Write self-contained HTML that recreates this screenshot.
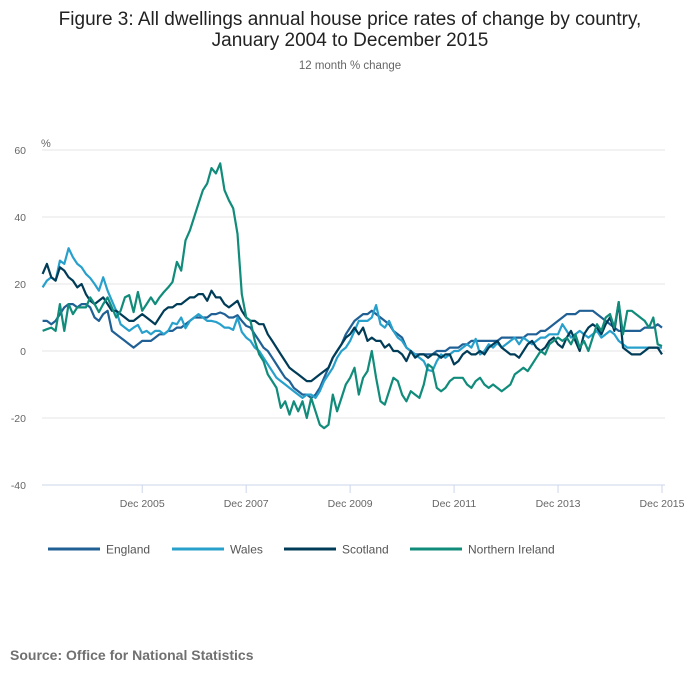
<!DOCTYPE html>
<html><head><meta charset="utf-8"><style>
body{margin:0;background:#fff;font-family:"Liberation Sans",sans-serif;}
#wrap{position:relative;width:700px;height:682px;overflow:hidden;}
</style></head><body>
<div id="wrap">
<svg id="chart" width="700" height="682" style="position:absolute;left:0;top:0">
<text x="350" y="25" text-anchor="middle" font-size="19" fill="#222">Figure 3: All dwellings annual house price rates of change by country,</text>
<text x="350" y="46" text-anchor="middle" font-size="19" fill="#222">January 2004 to December 2015</text>
<text x="350" y="69" text-anchor="middle" font-size="11.5" fill="#666">12 month % change</text>
<text x="41" y="147" font-size="11" fill="#666">%</text>
<g id="grid"></g><g id="series"></g>
<text x="10" y="660" font-size="14" font-weight="bold" fill="#707070">Source: Office for National Statistics</text>
</svg>
</div>
<script>
const england=[9,9,8,9,11,13,14,14,13,14,14,13, 10,9,11,12,6,5,4,3,2,1,2,3, 3,3,4,5,5,6,6,7,7,8,9,10, 10,10,10,11,11,11.5,11,10,10,10.7,9,7.5, 7,5,3,1,0,-2,-4,-6,-8,-9,-11,-12, -13,-13,-14,-13,-11,-8,-5,-2,0,2,5,7, 9,10,11,11,12,11,10,9,8,6,5,4, 1,0,-1,-1,-1,-1,-1,0,0,0,1,1, 1,2,2,3,3,3,3,3,3,3,4,4, 4,4,4,4,5,5,5,6,6,7,8,9, 10,11,11,11,12,12,12,12,11,10,9,8, 7,6,6,6,6,6,6,7,7,7,8,7];
const wales=[19,21,22,21,27,26,30.7,28,26,25,23,21.8, 20,18,22,18,15,12,8,7,6,7,7.8,5.4, 6,5,6,6,5,6,8.4,8,10,6.8,9,10, 11,10,9,9,8.7,8,7,7,6.3,10,5.7,4, 3,1,0,-2,-4,-6,-8,-9,-10,-11,-12,-13, -14,-13,-13,-14,-12,-9,-7,-5,-2,0,1,3, 6,9,9,9,10,13.7,8,7,9,6,4,3, 1,0,-1,-2,-3,-5.7,-6,-3,-1,-2,-1,0, 0,1,2,1,3.6,-1,0,2,1,2.4,1,2, 3,4,2,4,3,2,3,4,4,5,5,5, 8,6,4,5,6,5,4,5,6,4,5,6, 5,3,2,1,1,1,1,1,1,1,1,1];
const scotland=[23,26,22,21,25,24,22,21,19,20,17,15, 14,15,16,14,12,12,11,10,9,9,10,11, 10,9,8,10,12,13,13,14,14,15,16,16, 17,17,15,18,16,16,14,13,14,15,12,10, 9,9,8,8,5,3,1,-1,-3,-5,-6,-7, -8,-9,-9,-8,-7,-6,-5,-2,0,2,4,5, 7,5,7,3,4,3,3,1,2,0,0,-1, -3,0,-2,-1,-1,-2,-1,-1,-2,-1,-1,-4, -3,-1,0,-1,-1,0,-1,1,2,3,1,0, -1,-1,-2,0,2,3,1,0,1,3,4,2, 1,4,6,3,0,5,7,8,7,5,8,10, 6,14.6,1,0,-1,-1,-1,0,1,1,1,-1];
const nireland=[6,6.5,7,6,14,6,14,11,13,13,13,16, 14,11.6,14,16,13,10,12,16,16.7,11.6,17.6,12, 14,16,14,16,17.6,19,20.6,26.6,24,33,36,40, 44,48,50,54.6,53,56,48,45,42.6,35,17,10, 9,3,-1,-3,-7,-9,-11,-17,-15,-19,-15,-18, -15,-20,-14,-18,-22,-23,-22,-13,-18,-14,-10,-8, -5,-13,-8,-6,0,-8,-15,-16,-12,-8,-9,-13, -15,-12,-13,-14,-10,-4,-5,-11,-12,-11,-9,-8, -8,-8,-10,-11,-9,-8,-10,-11,-10,-11,-12,-11, -10,-7,-6,-5,-6,-4,-2,0,-1,2,3,4, 3,4,2,5,1,3,0,4,8,6,10,11, 7,14.6,5,12,12,11,10,9,7,10,2,1.5];
const yTicks=[60,40,20,0,-20,-40];
const xTickLabels=["Dec 2005","Dec 2007","Dec 2009","Dec 2011","Dec 2013","Dec 2015"];
const xTickMonths=[23,47,71,95,119,143];
const seriesNames=["England","Wales","Scotland","Northern Ireland"];

const NS="http://www.w3.org/2000/svg";
const X0=42.6,X1=662,Y0=351,YS=3.35;
const xs=m=>X0+(X1-X0)*m/143;
const ys=v=>Y0-v*YS;
const grid=document.getElementById('grid');
function mk(t,a,p){const e=document.createElementNS(NS,t);for(const k in a)e.setAttribute(k,a[k]);p.appendChild(e);return e;}
yTicks.forEach(v=>{
  if(v!==-40){const l=mk('line',{x1:42,x2:665,y1:ys(v),y2:ys(v),stroke:'#e6e6e6','stroke-width':1},grid);
  
  }
  const t=mk('text',{x:26,y:ys(v)+4,'text-anchor':'end','font-size':10.5,fill:'#666'},grid);t.textContent=v;
  
  
});
const ax=mk('line',{x1:42,x2:665,y1:ys(-40),y2:ys(-40),stroke:'#ccd6eb','stroke-width':1},grid);


xTickMonths.forEach((m,i)=>{
  const tk=mk('line',{x1:xs(m),x2:xs(m),y1:ys(-40),y2:ys(-40)+8,stroke:'#ccd6eb'},grid);
  
  
  const t=mk('text',{x:xs(m),y:507,'text-anchor':'middle','font-size':10.5,fill:'#666'},grid);t.textContent=xTickLabels[i];
  
  
});
const colors=['#206095','#27a0cc','#003c57','#118c7b'];
const data=[england,wales,scotland,nireland];
const sg=document.getElementById('series');
data.forEach((d,i)=>{
  const p=mk('path',{d:d.map((v,m)=>(m?'L':'M')+xs(m).toFixed(1)+','+ys(v).toFixed(1)).join(''),fill:'none',stroke:colors[i],'stroke-width':2.2,'stroke-linejoin':'round'},sg);
  
  
});
const lx=[48,172,284,410];
seriesNames.forEach((n,i)=>{
  const g=mk('g',{},sg);
  
  
  mk('line',{x1:lx[i],x2:lx[i]+52,y1:549,y2:549,stroke:colors[i],'stroke-width':3},g);
  const t=mk('text',{x:lx[i]+58,y:553.5,'font-size':12,fill:'#555'},g);t.textContent=n;
});
</script>
</body></html>
